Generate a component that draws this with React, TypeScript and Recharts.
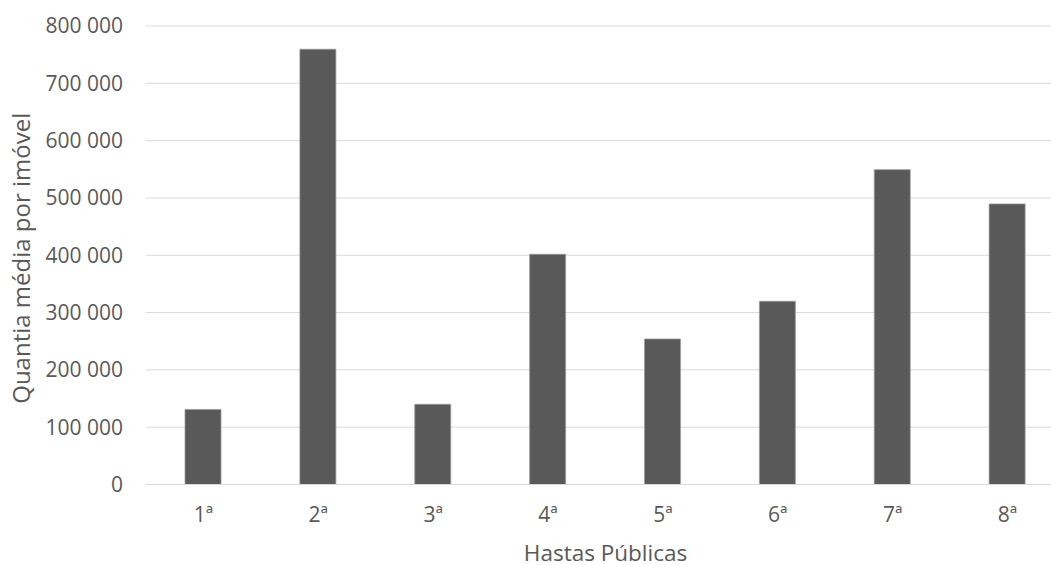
import React from "react";
import { BarChart, Bar, XAxis, YAxis, CartesianGrid, Label } from "recharts";

// Hastas públicas (auction rounds) and the average amount per property
const hastas = ["1ª", "2ª", "3ª", "4ª", "5ª", "6ª", "7ª", "8ª"];
const quantiaMedia = [131000, 759500, 140000, 401700, 253900, 319700, 549400, 489500];
const yTicks = [0, 100000, 200000, 300000, 400000, 500000, 600000, 700000, 800000];

const data = hastas.map((h, i) => ({ hasta: h, valor: quantiaMedia[i] }));

const FONT = "'Open Sans', Lato, sans-serif";
const TEXT = "#595959";

// "800 000" style thousands grouping
const fmt = (v: number) => String(v).replace(/\B(?=(\d{3})+(?!\d))/g, " ");

export default function App() {
  return (
    <div
      style={{
        position: "absolute",
        left: 0,
        top: 0,
        width: 1051,
        height: 565,
        overflow: "hidden",
        background: "#ffffff",
      }}
    >
      <BarChart
        width={1070}
        height={565}
        data={data}
        margin={{ top: 26, right: 5, bottom: 0, left: 0 }}
        style={{ fontFamily: FONT }}
      >
        <CartesianGrid vertical={false} stroke="#d9d9d9" strokeWidth={1} />
        <XAxis
          dataKey="hasta"
          height={80.5}
          tickLine={false}
          tickSize={0}
          tickMargin={23}
          axisLine={{ stroke: "#d9d9d9", strokeWidth: 1 }}
          tick={{ fill: TEXT, fontSize: 21, fontFamily: FONT }}
        >
          <Label
            value="Hastas Públicas"
            position="center"
            dy={28.5}
            style={{ fill: TEXT, fontSize: 22.5, fontFamily: FONT }}
          />
        </XAxis>
        <YAxis
          width={146}
          domain={[0, 800000]}
          ticks={yTicks}
          interval={0}
          tickFormatter={fmt}
          axisLine={false}
          tickLine={false}
          tickSize={0}
          tickMargin={23}
          tick={{ fill: TEXT, fontSize: 21, fontFamily: FONT }}
        >
          <Label
            value="Quantia média por imóvel"
            angle={-90}
            position="center"
            dx={-51.5}
            dy={3}
            style={{ fill: TEXT, fontSize: 24, fontFamily: FONT, textAnchor: "middle" }}
          />
        </YAxis>
        <Bar
          dataKey="valor"
          fill="#595959"
          stroke="#9a9a9a"
          strokeWidth={0.75}
          barSize={36}
          isAnimationActive={false}
        />
      </BarChart>
    </div>
  );
}
